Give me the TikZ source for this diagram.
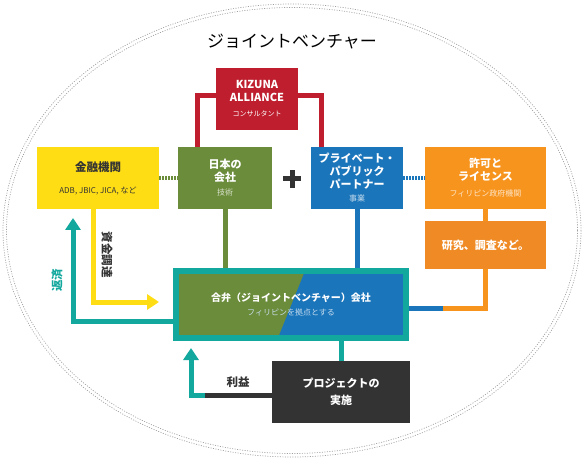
\documentclass[tikz,border=0pt]{standalone}
\usepackage{fontspec}
\setmainfont{Noto Sans CJK JP}
\usepackage{xcolor}
\usetikzlibrary{arrows.meta,positioning,calc}

\definecolor{kzred}{HTML}{BE1E2D}
\definecolor{finyellow}{HTML}{FFDD15}
\definecolor{jpgreen}{HTML}{6B8C3A}
\definecolor{pppblue}{HTML}{1B75BB}
\definecolor{licorange}{HTML}{F7941D}
\definecolor{resorange}{HTML}{F08A24}
\definecolor{jvteal}{HTML}{13A89E}
\definecolor{projdark}{HTML}{333333}
\definecolor{ringgray}{HTML}{A0A0A0}

\newcommand{\subtxt}[1]{{\mdseries\fontsize{8}{9.5}\selectfont #1}}

\begin{document}
\begin{tikzpicture}[x=1pt, y=-1pt,
    box/.style={rectangle, inner sep=0pt, align=center, text=white,
        font=\bfseries\fontsize{11}{13}\selectfont},
    link/.style={line width=5pt},
    tealarrow/.style={link, draw=jvteal, -{Triangle[width=15pt,length=12pt]}},
    dotlink/.style={line width=4pt, dash pattern=on 1.5pt off 1.5pt},
    lbl/.style={inner sep=0pt, font=\bfseries\fontsize{11.5}{13}\selectfont},
    ring/.style={draw=ringgray, line width=0.7pt, dash pattern=on 1pt off 1.5pt}]
    \useasboundingbox (0,0) rectangle (586,462);

    % Outer ring
    \draw[ring] (292,230.5) ellipse [x radius=289, y radius=226.5];
    \draw[ring] (292,230.5) ellipse [x radius=285.5, y radius=223];

    % Title
    \node[inner sep=0pt, font=\fontsize{17}{20}\selectfont] (title) at (292,42) {ジョイントベンチャー};

    % Consultant
    \node[box, fill=kzred, minimum width=82, minimum height=62] (kizuna) at (257,99)
        {KIZUNA\\ALLIANCE\\[2pt]{\mdseries\fontsize{7}{9}\selectfont コンサルタント}};

    % Partners
    \node[box, fill=finyellow, text=projdark, minimum width=122, minimum height=62,
        font=\bfseries\fontsize{11.5}{13}\selectfont] (fin) at (98,178)
        {金融機関\\[9pt]\subtxt{ADB, JBIC, JICA, など}};
    \node[box, fill=jpgreen, minimum width=94, minimum height=62] (jp) at (225,178)
        {日本の\\会社\\[1pt]\textcolor{white!75!jpgreen}{\subtxt{技術}}};
    \node[box, fill=pppblue, minimum width=92, minimum height=62] (ppp) at (357,178)
        {プライベート・\\パブリック\\パートナー\\\textcolor{white!75!pppblue}{\subtxt{事業}}};
    \node[box, fill=licorange, minimum width=121, minimum height=62] (lic) at (485.5,178)
        {許可と\\ライセンス\\[3pt]\textcolor{white!75!licorange}{\subtxt{フィリピン政府機関}}};
    \node[box, fill=resorange, minimum width=121, minimum height=48] (res) at (485.5,245)
        {研究、調査など。};

    % Joint venture company
    \node[box, fill=jpgreen, draw=jvteal, line width=6pt, minimum width=230, minimum height=67,
        font=\bfseries\fontsize{10}{14}\selectfont,
        path picture={\fill[pppblue] ($(path picture bounding box.north west)+(129,0)$)
            -- (path picture bounding box.north east) -- (path picture bounding box.south east)
            -- ($(path picture bounding box.south west)+(102,0)$) -- cycle;}] (jv) at (291,304.5)
        {合弁（ジョイントベンチャー）会社\\\textcolor{white!75!pppblue}{\subtxt{フィリピンを拠点とする}}};

    % Project
    \node[box, fill=projdark, minimum width=138, minimum height=62,
        font=\bfseries\fontsize{11}{17}\selectfont] (proj) at (341,392) {プロジェクトの\\実施};

    % Free ends
    \coordinate (fundtip) at (159,302);
    \coordinate (repaytip) at (73,218);
    \coordinate (orjoin) at (443,308);
    \coordinate (profitjoin) at (205,395);
    \coordinate (profittip) at (191,348);

    % Consultant bracket
    \draw[link, kzred] ([yshift=3pt]kizuna.west) -| ([xshift=-28pt]jp.north);
    \draw[link, kzred] ([yshift=3pt]kizuna.east) -| ([xshift=-36pt]ppp.north);

    % Partner lines
    \draw[dotlink, jpgreen] (fin.east) -- (jp.west);
    \draw[dotlink, pppblue] (ppp.east) -- (lic.west);
    \draw[link, jpgreen] (jp.south) -- (jp.south |- jv.north);
    \draw[link, pppblue] (ppp.south) -- (ppp.south |- jv.north);
    \draw[link, licorange] (lic.south) -- (res.north);
    \draw[link, licorange] (res.south) |- (orjoin);
    \draw[link, pppblue] (orjoin) -- (jv.east |- orjoin);

    % Plus
    \node[inner sep=0pt, minimum size=17pt] (plus) at (292,179) {};
    \draw[line width=5pt, projdark] (plus.west) -- (plus.east);
    \draw[line width=5pt, projdark] (plus.north) -- (plus.south);

    % Money flows
    \draw[link, finyellow, -{Triangle[width=15pt,length=12pt]}] ([xshift=-5pt]fin.south) |- (fundtip);
    \draw[tealarrow] ([yshift=-16.5pt]jv.west) -| (repaytip);
    \node[lbl, text=projdark, rotate=-90] (fundlbl) at (107,255) {資金調達};
    \node[lbl, text=jvteal, rotate=90] (repaylbl) at (57,280) {返済};

    % Project and profit
    \draw[link, jvteal] (proj.north) -- (proj.north |- jv.south);
    \draw[link, projdark] ([yshift=-3pt]proj.west) -- (profitjoin);
    \draw[tealarrow] (profitjoin) -| (profittip);
    \node[lbl, text=projdark] (profitlbl) at (238,382) {利益};
\end{tikzpicture}
\end{document}
